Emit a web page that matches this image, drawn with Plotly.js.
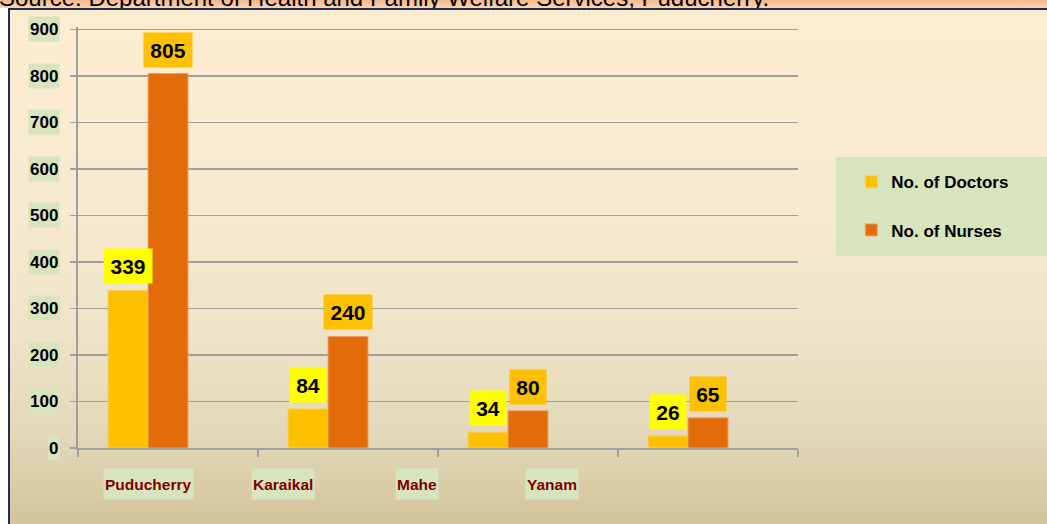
<!DOCTYPE html>
<html>
<head>
<meta charset="utf-8">
<script src="https://cdn.plot.ly/plotly-3.0.1.min.js"></script>
<style>
  html, body { margin: 0; padding: 0; width: 1047px; height: 524px; overflow: hidden; background: #ffffff; }
  #wrap { position: relative; width: 1047px; height: 524px; }
  #panel { position: absolute; left: 8px; top: 8px; width: 1039px; height: 516px;
    border-left: 2px solid #1f2f52; border-top: 2px solid #1f2f52; box-sizing: border-box;
    background: linear-gradient(to bottom, #fdedd1 0%, #f8ead0 35%, #efe4c8 62%, #e3d8b9 82%, #d3c49e 100%); }
  #strip { position: absolute; left: 0; top: 0; width: 1047px; height: 8px; overflow: hidden;
    background: linear-gradient(to bottom, #f6b98c, #fbd3b4); }
  #strip span { position: absolute; left: -1px; top: -14px; font-family: "Liberation Sans", Arial, sans-serif;
    font-size: 24px; line-height: 24px; white-space: nowrap; color: #000; }
  #chart { position: absolute; left: 0; top: 0; width: 1047px; height: 524px; }
</style>
</head>
<body>
<div id="wrap">
  <div id="panel"></div>
  <div id="strip"><span>Source: Department of Health and Family Welfare Services, Puducherry.</span></div>
  <div id="chart"></div>
</div>
<script>
// ---- data ----
const categories = ["Puducherry", "Karaikal", "Mahe", "Yanam"];
const doctors = [339, 84, 34, 26];
const nurses = [805, 240, 80, 65];
const seriesNames = ["No. of Doctors", "No. of Nurses"];
const yTicks = [0, 100, 200, 300, 400, 500, 600, 700, 800, 900];

// ---- styles ----
const FONT = "Liberation Sans, Arial, sans-serif";
const docColor = "#ffc000";
const nurColor = "#e36c0a";
const gridColor = "#9f9f9f";
const catLabelShift = [-20, -65, -111, -156];

const traces = [
  { type: "bar", name: seriesNames[0], x: categories, y: doctors,
    offset: -0.3333, width: 0.2222,
    marker: { color: docColor, line: { color: "#fccf5a", width: 1 } },
    legendgroup: "d", hoverinfo: "x+y" },
  { type: "bar", name: seriesNames[1], x: categories, y: nurses,
    offset: -0.1111, width: 0.2222,
    marker: { color: nurColor, line: { color: "#f2a26a", width: 1 } },
    legendgroup: "n", hoverinfo: "x+y" }
];

const annotations = [];
// y tick labels with background
yTicks.forEach(v => {
  annotations.push({ xref: "paper", yref: "y", x: -0.025, y: v, xanchor: "right", yanchor: "middle",
    text: String(v), showarrow: false, bgcolor: "#d7e4bd", borderpad: 1, height: 22,
    font: { family: FONT, size: 17, color: "#000", weight: "bold" } });
});
// category labels
categories.forEach((c, i) => {
  annotations.push({ xref: "x", yref: "y", x: c, y: 0, xanchor: "center", yanchor: "middle",
    xshift: catLabelShift[i], yshift: -36,
    text: c, showarrow: false, bgcolor: "#d7e4bd", borderpad: 1, height: 28,
    font: { family: FONT, size: 15.5, color: "#7f0000", weight: "bold" } });
});
// data labels
function addLabels(vals, shift, bg) {
  vals.forEach((v, i) => {
    const s = String(v);
    annotations.push({ xref: "x", yref: "y", x: categories[i], y: v, xanchor: "center", yanchor: "bottom",
      xshift: shift, yshift: 6, text: s, showarrow: false, bgcolor: bg, borderpad: 4,
      width: s.length * 12 + 4, height: 26,
      font: { family: FONT, size: 21, color: "#000", weight: "bold" } });
  });
}
addLabels(doctors, -40, "#ffff00");
addLabels(nurses, 0, "#ffc000");

const layout = {
  width: 1047, height: 524,
  margin: { l: 78, r: 249, t: 27, b: 76, pad: 0 },
  paper_bgcolor: "rgba(0,0,0,0)", plot_bgcolor: "rgba(0,0,0,0)",
  barmode: "overlay",
  showlegend: true,
  legend: { x: 1.074, xanchor: "left", y: 0.674, yanchor: "top", bgcolor: "rgba(0,0,0,0)",
    traceorder: "grouped", tracegroupgap: 23,
    font: { family: FONT, size: 17, color: "#000", weight: "bold" } },
  xaxis: { type: "category", range: [-0.5, 3.5], showgrid: false, showline: true, linecolor: gridColor, linewidth: 2,
    ticks: "outside", tickson: "boundaries", ticklen: 7, tickcolor: gridColor, tickwidth: 2,
    showticklabels: false, zeroline: false, fixedrange: true },
  yaxis: { range: [0, 905], tickvals: yTicks, showgrid: true, gridcolor: gridColor, gridwidth: 1.5,
    showline: true, linecolor: gridColor, linewidth: 2, ticks: "outside", ticklen: 6, tickcolor: gridColor, tickwidth: 1.5,
    showticklabels: false, zeroline: false, fixedrange: true },
  shapes: [
    { type: "rect", xref: "paper", yref: "paper", x0: 758/720, x1: 970/720, y0: (448-256)/421, y1: (448-157)/421,
      fillcolor: "#d7e4bd", line: { width: 0 }, layer: "below" }
  ],
  annotations: annotations
};

Plotly.newPlot("chart", traces, layout, { displayModeBar: false, staticPlot: true });
</script>
</body>
</html>
